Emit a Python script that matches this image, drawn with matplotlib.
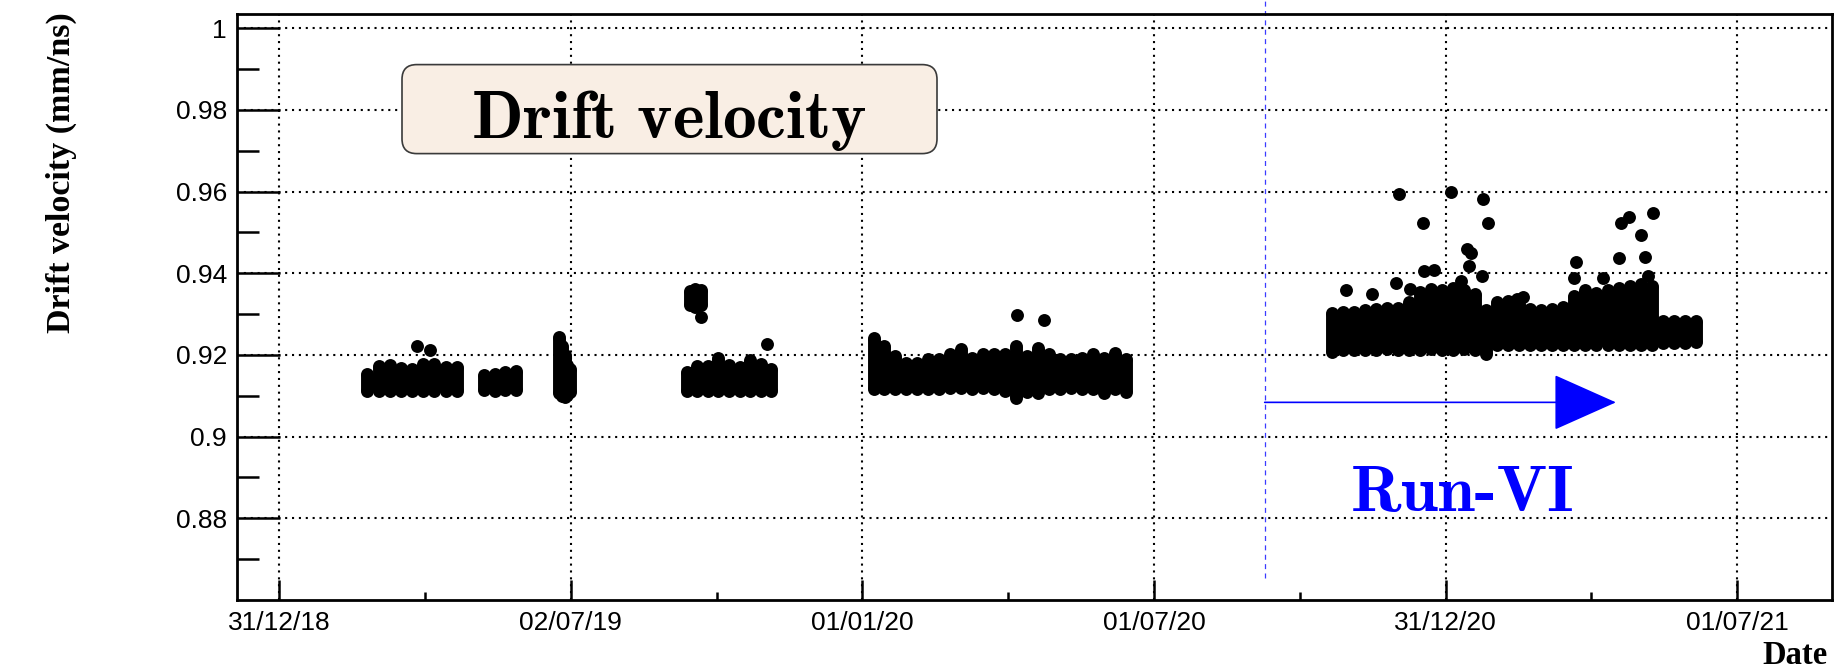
import os
import numpy as np
import pandas as pd
import matplotlib
matplotlib.use('Agg')
import matplotlib.pyplot as plt
import matplotlib.dates as mdates
from matplotlib.ticker import FixedLocator, FuncFormatter
from matplotlib.patches import FancyBboxPatch
from matplotlib.font_manager import FontProperties

# drift velocity (mm/ns): spread of the readings per sampling column (upper / lower)
c1_start, c1_end = '2019-02-25', '2019-04-22'
c1_hi = [0.9154, 0.9172, 0.9176, 0.9168, 0.9166, 0.9178, 0.9178, 0.9170, 0.9170]
c1_lo = [0.9112, 0.9111, 0.9112, 0.9111, 0.9112, 0.9112, 0.9111, 0.9112, 0.9112]

c2_start, c2_end = '2019-05-09', '2019-05-29'
c2_hi = [0.9152, 0.9153, 0.9158, 0.9160]
c2_lo = [0.9114, 0.9113, 0.9114, 0.9114]

c3_start, c3_end = '2019-06-25', '2019-07-02'
c3_hi = [0.9244, 0.9222, 0.9200, 0.9176, 0.9165]
c3_lo = [0.9108, 0.9100, 0.9096, 0.9102, 0.9110]

c4_start, c4_end = '2019-09-15', '2019-09-22'
c4_hi = [0.9356, 0.9362, 0.9358]
c4_lo = [0.9322, 0.9318, 0.9322]

c5_start, c5_end = '2019-09-13', '2019-11-05'
c5_hi = [0.9158, 0.9172, 0.9174, 0.9192, 0.9176, 0.9170, 0.9188, 0.9178, 0.9166]
c5_lo = [0.9113, 0.9112, 0.9113, 0.9112, 0.9112, 0.9113, 0.9112, 0.9112, 0.9113]

c6_start, c6_end = '2020-01-08', '2020-06-14'
c6_hi = [0.9242, 0.9222, 0.9198, 0.9181, 0.9181, 0.9189, 0.9189, 0.9202,
         0.9214, 0.9193, 0.9202, 0.9202, 0.9202, 0.9222, 0.9198, 0.9218,
         0.9203, 0.9189, 0.9189, 0.9193, 0.9203, 0.9193, 0.9206, 0.9189]
c6_lo = [0.9117, 0.9117, 0.9117, 0.9116, 0.9117, 0.9116, 0.9117, 0.9118,
         0.9118, 0.9117, 0.9118, 0.9117, 0.9112, 0.9094, 0.9110, 0.9108,
         0.9117, 0.9117, 0.9118, 0.9117, 0.9116, 0.9108, 0.9116, 0.9110]

# Run-VI
c7_start, c7_end = '2020-10-21', '2021-06-06'
c7_hi = [0.9302, 0.9305, 0.9306, 0.9310, 0.9312, 0.9314, 0.9316, 0.9330,
         0.9355, 0.9362, 0.9358, 0.9365, 0.9360, 0.9350, 0.9310, 0.9330,
         0.9332, 0.9326, 0.9312, 0.9310, 0.9312, 0.9318, 0.9345, 0.9360,
         0.9352, 0.9358, 0.9365, 0.9368, 0.9375, 0.9370, 0.9284, 0.9283,
         0.9283, 0.9282]
c7_lo = [0.9208, 0.9212, 0.9213, 0.9213, 0.9213, 0.9214, 0.9213, 0.9213,
         0.9213, 0.9214, 0.9213, 0.9213, 0.9214, 0.9213, 0.9202, 0.9224,
         0.9224, 0.9225, 0.9224, 0.9224, 0.9225, 0.9224, 0.9225, 0.9224,
         0.9225, 0.9224, 0.9225, 0.9224, 0.9225, 0.9225, 0.9230, 0.9230,
         0.9230, 0.9231]

# isolated readings
out_dates = ['2019-03-28', '2019-04-05', '2019-09-22', '2019-11-02', '2020-04-07',
             '2020-04-24', '2020-10-30', '2020-11-15', '2020-11-30', '2020-12-09',
             '2020-12-18', '2020-12-24', '2020-12-02', '2020-12-17', '2021-01-04',
             '2021-01-24', '2021-01-27', '2021-01-14', '2021-01-16', '2021-01-15',
             '2021-01-10', '2021-01-23', '2021-03-23', '2021-03-22', '2021-04-09',
             '2021-04-19', '2021-04-20', '2021-04-25', '2021-05-03', '2021-05-05',
             '2021-05-10', '2021-05-07', '2021-02-14', '2021-02-18']
out_vals = [0.9222, 0.9212, 0.9292, 0.9228, 0.9298, 0.9285, 0.9358, 0.9349, 0.9377,
            0.9362, 0.9405, 0.9407, 0.9593, 0.9523, 0.9598, 0.9582, 0.9523, 0.9460,
            0.9450, 0.9419, 0.9382, 0.9393, 0.9427, 0.9388, 0.9388, 0.9437, 0.9523,
            0.9538, 0.9495, 0.9440, 0.9547, 0.9393, 0.9336, 0.9341]

run6_start = '2020-09-09'
run6_arrow_end = '2021-04-17'
run6_label_date = '2021-01-11'

plt.rcParams['font.family'] = 'Liberation Sans'
plt.rcParams['mathtext.fontset'] = 'cm'

fig = plt.figure(figsize=(18.39, 6.69), dpi=100)
ax = fig.add_axes([237 / 1839, 1 - 600 / 669, 1595 / 1839, 586 / 669])
ax.set_axisbelow(True)

ms = 9.3
bands = [(c1_start, c1_end, c1_hi, c1_lo), (c2_start, c2_end, c2_hi, c2_lo),
         (c3_start, c3_end, c3_hi, c3_lo), (c4_start, c4_end, c4_hi, c4_lo),
         (c5_start, c5_end, c5_hi, c5_lo), (c6_start, c6_end, c6_hi, c6_lo),
         (c7_start, c7_end, c7_hi, c7_lo)]
for start, end, hi, lo in bands:
    d = mdates.date2num(pd.date_range(start, end, periods=len(hi)).to_pydatetime())
    ax.vlines(d, lo, hi, color='k', lw=ms, zorder=3)
    ax.plot(d, hi, 'o', color='k', ms=ms, mew=0, zorder=3)
    ax.plot(d, lo, 'o', color='k', ms=ms, mew=0, zorder=3)

ax.plot(mdates.date2num(pd.to_datetime(out_dates).to_pydatetime()), out_vals,
        'o', color='k', ms=ms, mew=0, zorder=3)

# time axis: ticks every half year
t0 = mdates.date2num(pd.Timestamp('2018-12-31 20:00').to_pydatetime())
ax.set_xlim(t0 - 26.5, t0 + 972.5)
ax.set_ylim(0.86, 1.0035)
ax.xaxis.set_major_locator(FixedLocator(t0 + 182.625 * np.arange(6)))
ax.xaxis.set_minor_locator(FixedLocator(t0 + 91.3125 + 182.625 * np.arange(5)))
ax.xaxis.set_major_formatter(mdates.DateFormatter('%d/%m/%y'))
ax.yaxis.set_major_locator(FixedLocator(np.arange(0.88, 1.001, 0.02)))
ax.yaxis.set_minor_locator(FixedLocator(np.arange(0.87, 1.0, 0.02)))
ax.yaxis.set_major_formatter(FuncFormatter(lambda v, _: f'{round(v, 3):g}'))

ax.tick_params(axis='x', which='major', direction='in', length=14.4, width=1.8,
               pad=7.7, labelsize=19)
ax.tick_params(axis='x', which='minor', direction='in', length=5.8, width=1.8)
ax.tick_params(axis='y', which='major', direction='in', length=31, width=1.8,
               pad=7.2, labelsize=19)
ax.tick_params(axis='y', which='minor', direction='in', length=15.8, width=1.8)
for s in ax.spines.values():
    s.set_linewidth(2)
ax.grid(True, which='major', color='k', ls=(0, (1, 2.3)), lw=1.5)

fig.text(61 / 1839, 1 - 12 / 669, 'Drift velocity (mm/ns)', rotation=90,
         ha='center', va='top', family='Liberation Serif', weight='bold', size=24.5)
fig.text(1828 / 1839, 1 - 664 / 669, 'Date', ha='right', va='baseline',
         family='Liberation Serif', weight='bold', size=23.5)

# title box
box = FancyBboxPatch((402 / 1839, 1 - 153.6 / 669), 535 / 1839, 89 / 669,
                     boxstyle='round,pad=0,rounding_size=0.008',
                     mutation_aspect=1839 / 669, transform=fig.transFigure,
                     fc='#f9eee4', ec='#3a3a3a', lw=1.2)
fig.add_artist(box)
fig.text(669 / 1839, 1 - 137.7 / 669, r'$\mathbf{Drift\ velocity}$',
         ha='center', va='baseline', size=48.5)

# Run-VI marker
run_x = mdates.date2num(pd.Timestamp(run6_start).to_pydatetime())
ax.axvline(run_x, ymin=(0.8655 - 0.86) / (1.0035 - 0.86), ymax=1.024,
           color='#3b3bff', lw=0.9, ls=(0, (4, 3.5)), clip_on=False)
ax.annotate('', xy=(mdates.date2num(pd.Timestamp(run6_arrow_end).to_pydatetime()), 0.9084),
            xytext=(run_x, 0.9084),
            arrowprops=dict(arrowstyle='-|>,head_length=4.15,head_width=1.85',
                            color='blue', lw=1.2, shrinkA=0, shrinkB=0,
                            mutation_scale=10))
cmb = FontProperties(fname=os.path.join(matplotlib.get_data_path(), 'fonts', 'ttf', 'cmb10.ttf'),
                     size=48)
ax.text(mdates.date2num(pd.Timestamp(run6_label_date).to_pydatetime()), 0.8817, 'Run-VI',
        fontproperties=cmb, color='blue', ha='center', va='baseline')

fig.savefig('out.png', dpi=100)
